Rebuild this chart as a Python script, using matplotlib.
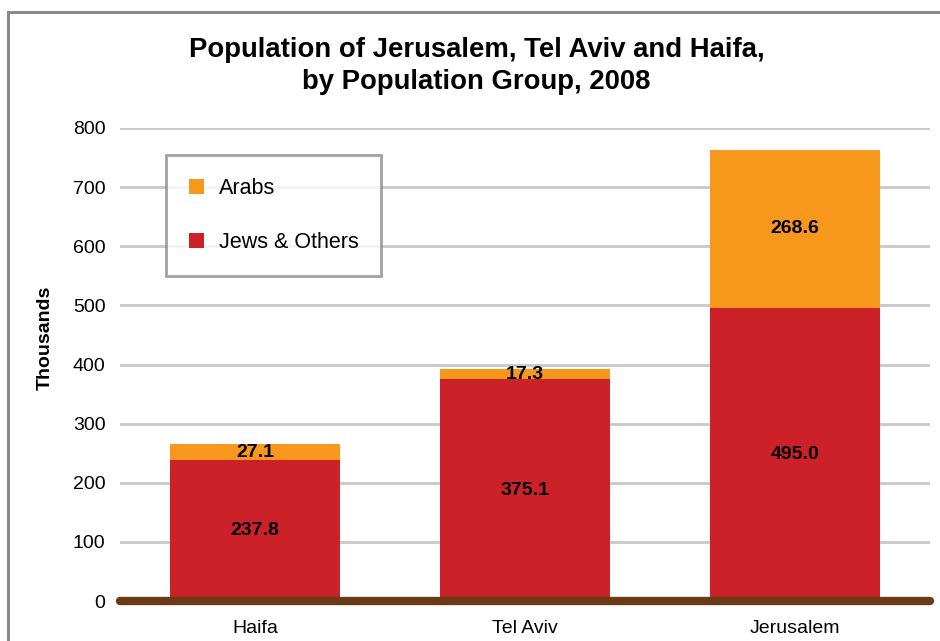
import matplotlib
matplotlib.use("Agg")
import matplotlib.pyplot as plt
from matplotlib.patches import Rectangle

plt.rcParams['font.family'] = ['Liberation Sans', 'DejaVu Sans']

cities = ['Haifa', 'Tel Aviv', 'Jerusalem']
jews_others = [237.8, 375.1, 495.0]
arabs = [27.1, 17.3, 268.6]
y_ticks = [0, 100, 200, 300, 400, 500, 600, 700, 800]

red = '#cc2128'
orange = '#f7981d'
brown = '#6b3a16'

fig = plt.figure(figsize=(9.4, 6.41), dpi=100)
fig.patches.append(Rectangle((8 / 940, -0.1), 1.2, 1 + 0.1 - 12 / 641,
                             transform=fig.transFigure, fill=False,
                             edgecolor='#8a8a8a', linewidth=2.2))

ax = fig.add_axes([120 / 940, 1 - 601 / 641, 810 / 940, 473 / 641])
x = list(range(len(cities)))
width = 0.626

b1 = ax.bar(x, jews_others, width, color=red, label='Jews & Others', zorder=3)
b2 = ax.bar(x, arabs, width, bottom=jews_others, color=orange, label='Arabs', zorder=3)

for xi, j, a in zip(x, jews_others, arabs):
    ax.text(xi, j / 2, f'{j:.1f}', ha='center', va='center', fontsize=14,
            fontweight='bold', zorder=4)
    ax.text(xi, j + a / 2, f'{a:.1f}', ha='center', va='center', fontsize=14,
            fontweight='bold', zorder=4)

ax.set_xlim(-0.5, 2.5)
ax.set_ylim(0, 800)
ax.set_yticks(y_ticks)
ax.set_xticks(x)
ax.set_xticklabels(cities)
ax.tick_params(axis='both', length=0, labelsize=14)
ax.tick_params(axis='y', pad=10.5)
ax.tick_params(axis='x', pad=13.5)
ax.yaxis.grid(True, color='#c8c8c8', linewidth=2, zorder=0)
for s in ax.spines.values():
    s.set_visible(False)
ax.plot([-0.5, 2.5], [0, 0], color=brown, linewidth=6,
        solid_capstyle='round', clip_on=False, zorder=5)

ax.set_ylabel('Thousands', fontsize=14, fontweight='bold')
ax.yaxis.set_label_coords(-0.082, 0.556)

fig.text(0.507, 1 - 66 / 641,
         'Population of Jerusalem, Tel Aviv and Haifa,\nby Population Group, 2008',
         ha='center', va='center', fontsize=19.8, fontweight='bold', linespacing=1.33)

leg = ax.legend(handles=[b2, b1], loc='upper left',
                bbox_to_anchor=((166 - 120) / 810, (601 - 155) / 473),
                fontsize=15.5, frameon=True, fancybox=False, handlelength=0.7,
                handleheight=0.7, labelspacing=1.55, borderpad=1.05,
                handletextpad=0.7, borderaxespad=0)
leg.get_frame().set_edgecolor('#8a8a8a')
leg.get_frame().set_linewidth(2)
leg.set_zorder(6)

fig.savefig('out.png', dpi=100)
